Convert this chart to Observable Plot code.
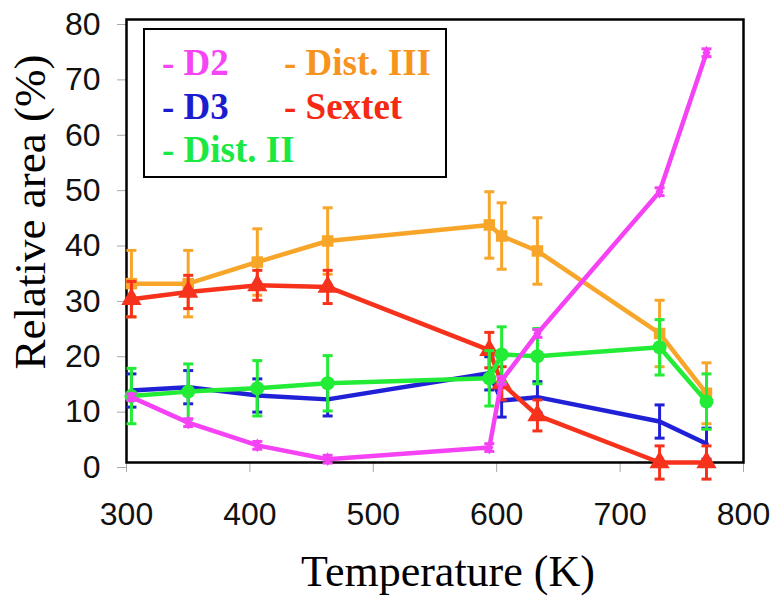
<!DOCTYPE html>
<html>
<head>
<meta charset="utf-8">
<script src="https://cdn.jsdelivr.net/npm/d3@7"></script>
<script src="https://cdn.jsdelivr.net/npm/@observablehq/plot@0.6"></script>
<style>
  body { margin: 0; background: #fff; }
  #wrap { position: relative; width: 772px; height: 598px; }
  #legend {
    position: absolute; left: 143px; top: 28px; width: 304px; height: 150px;
    box-sizing: border-box; border: 2.7px solid #000; background: #fff;
    font-family: "Liberation Serif", "Times New Roman", serif; font-weight: bold;
    font-size: 37px; line-height: 36px;
  }
  .item { position: absolute; white-space: pre; }
</style>
</head>
<body>
<div id="wrap"></div>
<script>
// ---- data ----
const temperatures = [304, 350, 406, 463, 594, 604, 633, 732, 770];
const seriesNames = ["Dist. III", "D3", "Sextet", "Dist. II", "D2"];
const seriesColors = ["#f8a62a", "#2020d6", "#f6321c", "#22ec36", "#f542f5"];
const legendColors = ["#f7941d", "#1c1ccf", "#f52a14", "#1be840", "#f545f5"];

const distIII = [32.3, 32.3, 36.2, 40.0, 42.9, 40.9, 38.2, 23.3, 12.5];
const distIIIErr = [6, 6, 6, 6, 6, 6, 6, 6, 5.5];
const d3Values = [13.0, 13.6, 12.1, 11.4, 16.1, 11.2, 11.8, 7.4, 3.4];
const d3Err = [3, 3, 3, 3, 3, 3, 2.8, 3, 2.8];
const sextet = [29.5, 30.8, 32.0, 31.7, 20.3, 14.3, 8.5, 0, 0];
const sextetErr = [3.2, 3, 2.7, 3, 3.2, 3, 2.8, 3, 3];
const distII = [12.0, 12.8, 13.4, 14.3, 15.2, 19.5, 19.2, 20.8, 11.0];
const distIIErr = [5, 5, 5, 5, 5, 5, 5, 5, 5];
const d2Values = [11.8, 7.2, 3.1, 0.6, 2.7, 14.8, 23.3, 48.9, 74.0];
const d2Err = [0.6, 0.7, 0.7, 0.7, 0.7, 0.7, 0.7, 0.7, 0.7];

const xTicks = [300, 400, 500, 600, 700, 800];
const yTicks = [0, 10, 20, 30, 40, 50, 60, 70, 80];

// ---- build long table ----
const valueSets = [distIII, d3Values, sextet, distII, d2Values];
const errSets = [distIIIErr, d3Err, sextetErr, distIIErr, d2Err];
const rows = [];
seriesNames.forEach((name, i) => {
  temperatures.forEach((t, j) => {
    rows.push({series: name, T: t, v: valueSets[i][j], lo: valueSets[i][j] - errSets[i][j], hi: valueSets[i][j] + errSets[i][j]});
  });
});

const capSymbol = {
  draw(context, size) {
    const r = Math.sqrt(size / Math.PI);
    context.moveTo(-r, 0);
    context.lineTo(r, 0);
  }
};
const markerSymbols = {"Dist. III": "square", "D3": null, "Sextet": "triangle", "Dist. II": "circle", "D2": "diamond"};
const markerR = {"Dist. III": 6.5, "D3": 0, "Sextet": 7.5, "Dist. II": 7, "D2": 4.2};

const seriesMarks = seriesNames.flatMap((name) => {
  const data = rows.filter(d => d.series === name);
  const m = [
    Plot.ruleX(data, {x: "T", y1: "lo", y2: "hi", stroke: "series", strokeWidth: 3}),
    Plot.dot(data, {x: "T", y: "hi", symbol: capSymbol, r: 5, stroke: "series", strokeWidth: 3, fill: "none"}),
    Plot.dot(data, {x: "T", y: "lo", symbol: capSymbol, r: 5, stroke: "series", strokeWidth: 3, fill: "none"}),
    Plot.line(data, {x: "T", y: "v", stroke: "series", strokeWidth: 4.5})
  ];
  if (markerSymbols[name]) {
    m.push(Plot.dot(data, {x: "T", y: "v", symbol: markerSymbols[name], r: markerR[name], fill: "series", stroke: "none"}));
  }
  return m;
});

const plot = Plot.plot({
  width: 772,
  height: 598,
  marginLeft: 126,
  marginRight: 29,
  marginTop: 19,
  marginBottom: 136,
  style: {fontFamily: "'Liberation Sans', Arial, sans-serif", background: "#fff", color: "#111"},
  x: {domain: [300, 800]},
  y: {domain: [0, 80]},
  color: {domain: seriesNames, range: seriesColors},
  marks: [
    Plot.axisX({ticks: xTicks, tickSize: 10, tickPadding: 30, stroke: "#a8a8a8", fill: "#111", fontSize: 32, label: null, tickFormat: d => String(d)}),
    Plot.axisY({ticks: yTicks, tickSize: 9, tickPadding: 17, dy: 5, stroke: "#a8a8a8", fill: "#111", fontSize: 32, label: null, tickFormat: d => String(d)}),
    Plot.frame({stroke: "#000", strokeWidth: 2.5}),
    ...seriesMarks
  ]
});

const svg = d3.select(plot);
svg.append("text")
  .attr("x", 448).attr("y", 586)
  .attr("text-anchor", "middle")
  .attr("font-family", "'Liberation Serif', 'Times New Roman', serif")
  .attr("font-size", 44).attr("fill", "#000")
  .text("Temperature (K)");
svg.append("text")
  .attr("transform", "translate(45,212) rotate(-90)")
  .attr("text-anchor", "middle")
  .attr("font-family", "'Liberation Serif', 'Times New Roman', serif")
  .attr("font-size", 45).attr("fill", "#000")
  .text("Relative area (%)");

const wrap = document.getElementById("wrap");
wrap.appendChild(plot);

// ---- legend ----
const legend = document.createElement("div");
legend.id = "legend";
const legendOrder = ["D2", "Dist. III", "D3", "Sextet", "Dist. II"];
const legendPos = [[17, 15], [139, 15], [17, 59], [139, 59], [17, 102]];
legendOrder.forEach((name, k) => {
  const idx = seriesNames.indexOf(name);
  const el = document.createElement("span");
  el.className = "item";
  el.style.left = legendPos[k][0] + "px";
  el.style.top = legendPos[k][1] + "px";
  el.style.color = legendColors[idx];
  el.textContent = "- " + name;
  legend.appendChild(el);
});
wrap.appendChild(legend);
</script>
</body>
</html>
